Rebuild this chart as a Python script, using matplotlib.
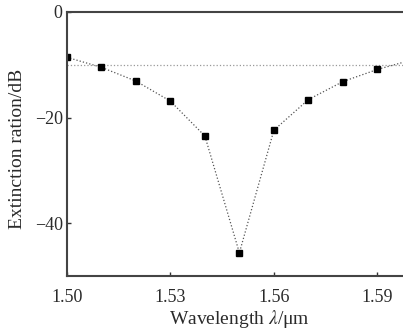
import matplotlib
matplotlib.use("Agg")
import matplotlib.pyplot as plt

wavelength = [1.50, 1.51, 1.52, 1.53, 1.54, 1.55, 1.56, 1.57, 1.58, 1.59, 1.60]
extinction = [-8.6, -10.5, -13.1, -16.9, -23.5, -45.6, -22.4, -16.6, -13.2, -10.9, -9.1]
reference_level = -10
xticks = [1.50, 1.53, 1.56, 1.59]
yticks = [0, -20, -40]

plt.rcParams['font.family'] = ['Liberation Serif', 'DejaVu Serif']
plt.rcParams['mathtext.fontset'] = 'stix'

fig = plt.figure(figsize=(4.03, 3.29), dpi=100)
ax = fig.add_axes([0.166, 0.161, 0.856, 0.803])

ax.axhline(reference_level, color='#999999', lw=0.9, ls=':')
ax.plot(wavelength, extinction, color='#555555', lw=0.9, ls=':',
        marker='s', ms=5, mfc='black', mec='black')

ax.set_xlim(1.50, 1.60)
ax.set_ylim(-50, 0)
ax.set_xticks(xticks)
ax.set_xticklabels([f"{v:.2f}" for v in xticks])
ax.set_yticks(yticks)
ax.set_yticklabels(["0", "\u221220", "\u221240"])
ax.tick_params(direction='in', length=3, width=1, labelsize=13,
               colors='#333333', labelcolor='#2a2a2a')
ax.tick_params(axis='x', pad=9)
ax.tick_params(axis='y', pad=3)

for s in ax.spines.values():
    s.set_linewidth(1.5)
    s.set_color('#444444')

ax.set_xlabel("Wavelength $\\mathit{\\lambda}$/\u03bcm", fontsize=14, labelpad=2,
              color='#2a2a2a')
ax.set_ylabel("Extinction ration/dB", fontsize=14, color='#2a2a2a')
ax.yaxis.set_label_coords(-0.118, 0.48)

fig.savefig("out.png", dpi=100)
